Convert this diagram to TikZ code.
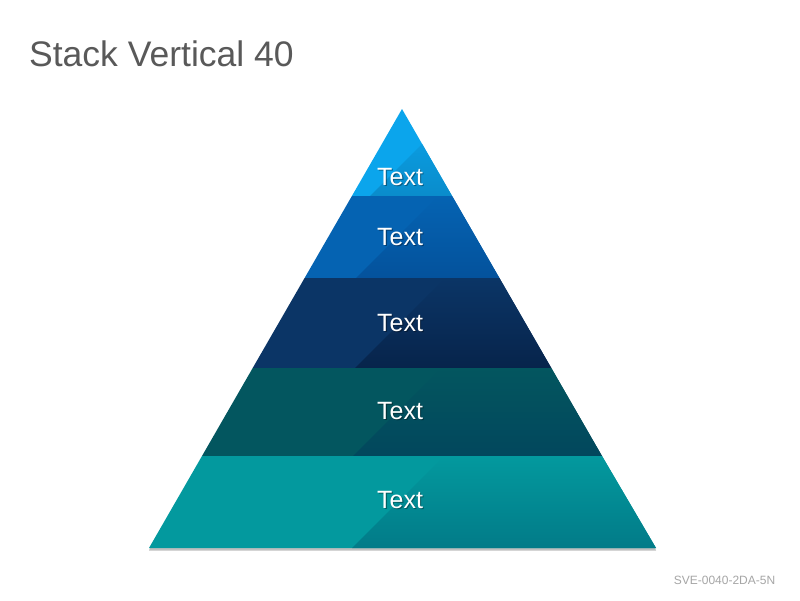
\documentclass[tikz,border=0pt]{standalone}
\usepackage{fontspec}
\setmainfont{Liberation Sans}
\definecolor{titlegray}{HTML}{595959}
\definecolor{footgray}{HTML}{A6A6A6}
\definecolor{laA}{HTML}{0BA5EC}\definecolor{ldA}{HTML}{0A8CCB}
\definecolor{laB}{HTML}{0563B2}\definecolor{ldB}{HTML}{04529C}
\definecolor{laC}{HTML}{0B3566}\definecolor{ldC}{HTML}{07244B}
\definecolor{laD}{HTML}{03565F}\definecolor{ldD}{HTML}{02475D}
\definecolor{laE}{HTML}{03999E}\definecolor{ldE}{HTML}{027B88}
\tikzset{
  lbl/.style={text=white,font=\fontsize{25}{29}\selectfont,inner sep=0pt},
  lblshadow/.style={text=black,opacity=0.35,font=\fontsize{25}{29}\selectfont,inner sep=0pt},
}
\newcommand{\pyrlayer}[9]{%
  % #1 ytop, #2 ybot, #3 left top x, #4 right top x, #5 left bot x, #6 right bot x, #7 light col, #8 dark col, #9 diag start x
  \fill[#7] (#3,#1) -- (#4,#1) -- (#6,#2) -- (#5,#2) -- cycle;
  \begin{scope}
    \clip (#3,#1) -- (#4,#1) -- (#6,#2) -- (#5,#2) -- cycle;
    \shade[top color=#7,bottom color=#8] (#9,#2) -- ++(#2-#1,#1-#2) -- (700,#1) -- (700,#2) -- cycle;
  \end{scope}
}
\begin{document}
\begin{tikzpicture}[x=1pt,y=-1pt]
\useasboundingbox (0,0) rectangle (800,600);
\fill[white] (0,0) rectangle (800,600);
\node[anchor=base west,text=titlegray,font=\fontsize{35.5}{40}\selectfont,inner sep=0pt] (title) at (29,66) {Stack Vertical 40};
% base shadow
\fill[black!25] (150,548) -- (655,548) -- (656,550.5) -- (149,550.5) -- cycle;
\pyrlayer{109}{196}{402}{402}{351.9}{452.1}{laA}{ldA}{370}
\pyrlayer{196}{278}{351.9}{452.1}{304.6}{499.4}{laB}{ldB}{356}
\pyrlayer{278}{368}{304.6}{499.4}{252.7}{551.3}{laC}{ldC}{355}
\pyrlayer{368}{456}{252.7}{551.3}{202}{602}{laD}{ldD}{353}
\pyrlayer{456}{548}{202}{602}{149}{656}{laE}{ldE}{352}
\foreach \n/\yy in {1/177,2/237,3/323,4/411,5/500}{
  \node[lblshadow] at (401.2,\yy+1.2) {Text};
  \node[lbl] (t\n) at (400,\yy) {Text};
}
\node[anchor=center,text=footgray,font=\fontsize{12}{14}\selectfont,inner sep=0pt] (foot) at (724.5,580) {SVE-0040-2DA-5N};
\end{tikzpicture}
\end{document}
